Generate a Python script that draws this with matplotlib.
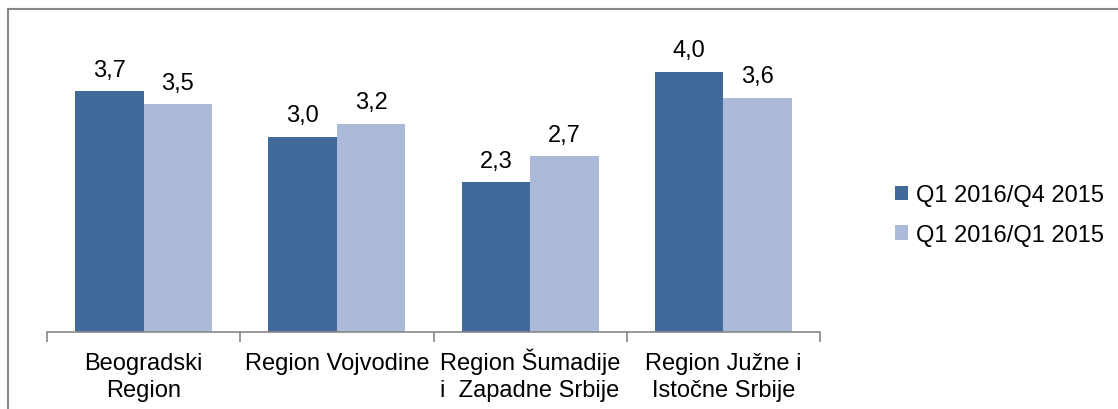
import numpy as np
import matplotlib.pyplot as plt
import matplotlib.transforms as mtransforms
from matplotlib.patches import Rectangle

plt.rcParams['font.family'] = ['Liberation Sans', 'DejaVu Sans']

regions = ['Beogradski\nRegion', 'Region Vojvodine', 'Region Šumadije\ni  Zapadne Srbije',
           'Region Južne i\nIstočne Srbije']
q4_2015 = [3.7, 3.0, 2.3, 4.0]
q1_2015 = [3.5, 3.2, 2.7, 3.6]
series_names = ['Q1 2016/Q4 2015', 'Q1 2016/Q1 2015']

dark = '#416A9B'
light = '#AABAD8'
fs = 17

fig = plt.figure(figsize=(11.18, 4.10), dpi=100)
ax = fig.add_axes([47 / 1118, 77 / 410, (820 - 47) / 1118, (333 - 40) / 410])

x = np.arange(len(regions))
w = 0.354
b1 = ax.bar(x - w / 2, q4_2015, w, color=dark, label=series_names[0])
b2 = ax.bar(x + w / 2, q1_2015, w, color=light, label=series_names[1])

for bars, vals in ((b1, q4_2015), (b2, q1_2015)):
    for r, v in zip(bars, vals):
        ax.annotate(f'{v:.1f}'.replace('.', ','), (r.get_x() + r.get_width() / 2, v),
                    xytext=(0, 11), textcoords='offset points', ha='center', va='baseline',
                    fontsize=fs)

ax.set_xlim(-0.5, len(regions) - 0.5)
ax.set_ylim(0, 4.5)
ax.set_yticks([])
for s in ('top', 'right', 'left'):
    ax.spines[s].set_visible(False)
ax.spines['bottom'].set_color('#888888')
ax.spines['bottom'].set_linewidth(1.2)

# category labels, one text per line so baselines line up
ax.set_xticks([])
ax.set_xticks(np.arange(len(regions) + 1) - 0.5, minor=True)
ax.tick_params(axis='x', which='minor', length=7, width=1.2, color='#888888', direction='out')
trans = mtransforms.blended_transform_factory(ax.transData, ax.transAxes)
for xi, lab in zip(x, regions):
    for i, line in enumerate(lab.split('\n')):
        ax.text(xi, (-37 - 27 * i) / 293, line, transform=trans, ha='center', va='baseline',
                fontsize=fs)

ax.legend(loc='center left', bbox_to_anchor=(886 / 1118, 194 / 410), bbox_transform=fig.transFigure,
          frameon=False, fontsize=fs, handlelength=0.55, handleheight=0.55, handletextpad=0.3,
          labelspacing=0.75, borderaxespad=0)

fig.patches.append(Rectangle((8 / 1118, -0.05), 1.1, 1 - 10 / 410 + 0.05, transform=fig.transFigure,
                             fill=False, edgecolor='#888888', linewidth=1.5))

fig.savefig('out.png', dpi=100)
